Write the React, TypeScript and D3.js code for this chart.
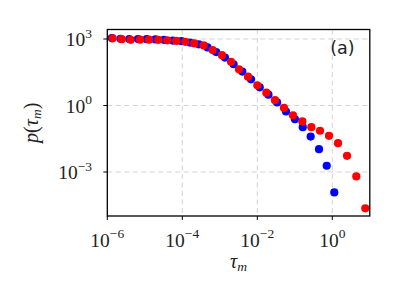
import React from "react";
import * as d3 from "d3";

const redTau = [1.39e-6, 2.42e-6, 4.2e-6, 7.45e-6, 1.29e-5, 2.3e-5, 3.99e-5, 6.93e-5, 1.21e-4, 2.09e-4, 3.71e-4, 6.44e-4, 1.14e-3, 1.99e-3, 3.25e-3, 5.65e-3, 1.0e-2, 1.74e-2, 2.96e-2, 5.15e-2, 8.95e-2, 0.159, 0.276, 0.47, 0.817, 1.42, 2.47, 4.37, 7.59];
const redP = [1072, 977, 912, 933, 933, 912, 871, 822, 741, 631, 513, 316, 186, 93.3, 42.7, 20.0, 8.13, 3.8, 1.74, 0.776, 0.363, 0.191, 0.105, 0.0724, 0.0427, 0.02, 5.37e-3, 6.31e-4, 2.29e-5];

const blueTau = [1.32e-6, 2.25e-6, 3.84e-6, 6.55e-6, 1.12e-5, 1.91e-5, 3.25e-5, 5.55e-5, 9.46e-5, 1.61e-4, 2.75e-4, 4.7e-4, 8.02e-4, 1.37e-3, 2.33e-3, 3.98e-3, 6.79e-3, 1.16e-2, 1.98e-2, 3.37e-2, 5.82e-2, 0.101, 0.163, 0.265, 0.442, 0.71, 1.13];
const blueP = [1096, 1023, 1000, 1000, 977, 955, 912, 851, 794, 692, 575, 417, 257, 145, 72.4, 33.9, 15.1, 6.61, 3.09, 1.38, 0.537, 0.24, 0.105, 0.0398, 0.0107, 1.91e-3, 1.2e-4];

const xTickExps = [-6, -4, -2, 0];
const yTickExps = [3, 0, -3];
const xDomain = [1e-6, 1e1];
const yDomain = [Math.pow(10, -4.985), Math.pow(10, 3.428)];

const L = 107.3, R = 369.8, T = 29.5, B = 216;

export default function App() {
  const x = d3.scaleLog().domain(xDomain).range([L, R]);
  const y = d3.scaleLog().domain(yDomain).range([B, T]);
  const fontSerif = "'Liberation Serif', 'DejaVu Serif', serif";
  const r = 4.1;
  return (
    <svg width={399} height={300} style={{ position: "absolute", left: 0, top: 0, background: "#fff" }}>
      <rect x={0} y={0} width={399} height={300} fill="#fff" />
      {xTickExps.filter((e) => e !== -6).map((e) => (
        <line key={"gx" + e} x1={x(Math.pow(10, e))} x2={x(Math.pow(10, e))} y1={T} y2={B} stroke="#cfcfcf" strokeWidth={0.9} strokeDasharray="5,3.5" />
      ))}
      {yTickExps.map((e) => (
        <line key={"gy" + e} x1={L} x2={R} y1={y(Math.pow(10, e))} y2={y(Math.pow(10, e))} stroke="#cfcfcf" strokeWidth={0.9} strokeDasharray="5,3.5" />
      ))}
      <g>
        {blueTau.map((t, i) => (
          <circle key={"b" + i} cx={x(t)} cy={y(blueP[i])} r={r} fill="#0000ff" />
        ))}
      </g>
      <g>
        {redTau.map((t, i) => (
          <circle key={"r" + i} cx={x(t)} cy={y(redP[i])} r={r} fill="#ff0000" />
        ))}
      </g>
      <rect x={L} y={T} width={R - L} height={B - T} fill="none" stroke="#000" strokeWidth={1.3} />
      {xTickExps.map((e) => {
        const px = x(Math.pow(10, e));
        return (
          <g key={"xt" + e}>
            <line x1={px} x2={px} y1={B} y2={B + 4} stroke="#000" strokeWidth={1} />
            <text x={px} y={246.5} textAnchor="middle" fontFamily={fontSerif} fontSize={19.5} fill="#222">
              10<tspan dy={-8.5} fontSize={13.5}>{e < 0 ? "\u2212" + -e : String(e)}</tspan>
            </text>
          </g>
        );
      })}
      {yTickExps.map((e) => {
        const py = y(Math.pow(10, e));
        return (
          <g key={"yt" + e}>
            <line x1={L - 4} x2={L} y1={py} y2={py} stroke="#000" strokeWidth={1} />
            <text x={92} y={py + 7.5} textAnchor="end" fontFamily={fontSerif} fontSize={19.5} fill="#222">
              10<tspan dy={-8.5} fontSize={13.5}>{e < 0 ? "\u2212" + -e : String(e)}</tspan>
            </text>
          </g>
        );
      })}
      <text x={(L + R) / 2} y={268} textAnchor="middle" fontFamily={fontSerif} fontSize={20} fontStyle="italic" fill="#222">
        τ<tspan dy={3} fontSize={13.5}>m</tspan>
      </text>
      <text transform={`translate(38, ${(T + B) / 2}) rotate(-90)`} textAnchor="middle" fontFamily={fontSerif} fontSize={20} fill="#222">
        <tspan fontStyle="italic">p</tspan>(<tspan fontStyle="italic">τ</tspan><tspan dy={3} fontSize={13.5} fontStyle="italic">m</tspan><tspan dy={-3}>)</tspan>
      </text>
      <text x={342.5} y={54} textAnchor="middle" fontFamily="'DejaVu Sans', sans-serif" fontSize={17.5} fill="#222">
        (a)
      </text>
    </svg>
  );
}
